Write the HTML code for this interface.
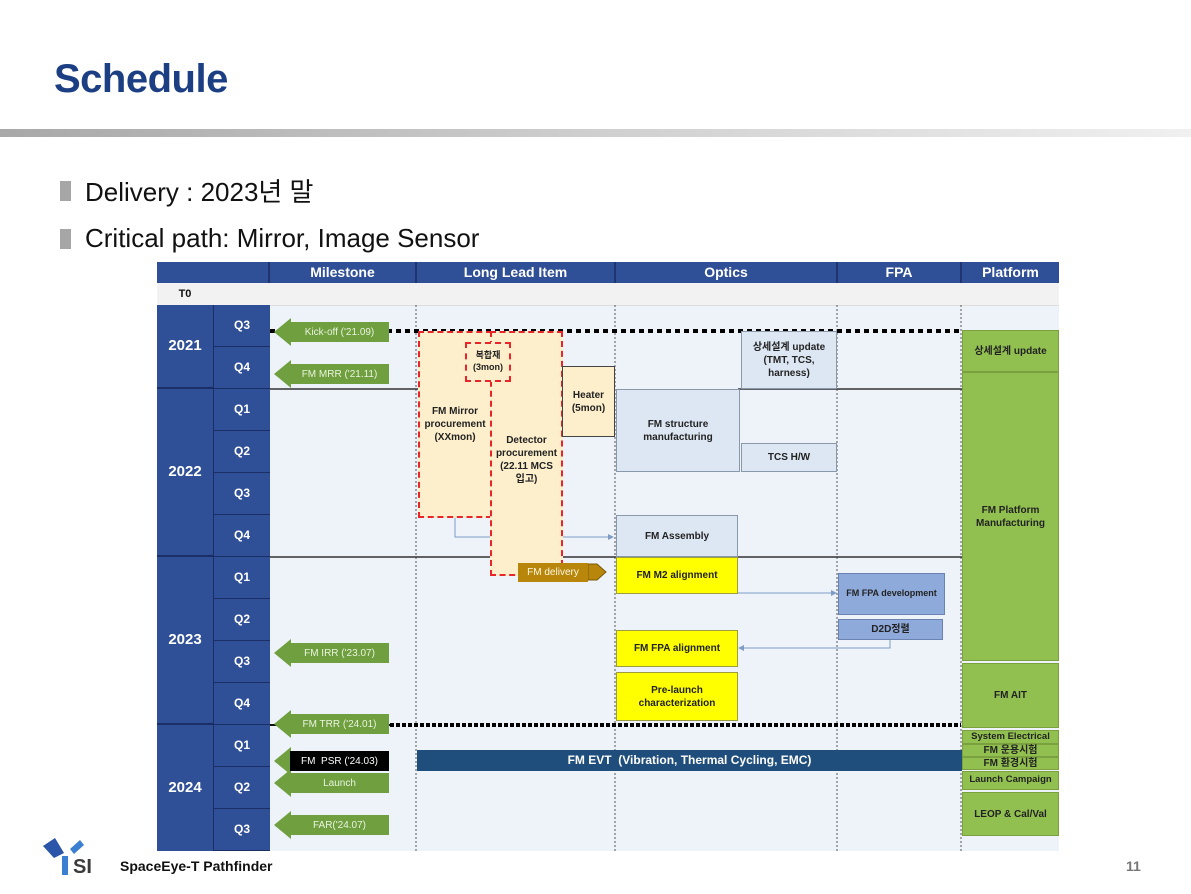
<!DOCTYPE html>
<html><head><meta charset="utf-8"><style>
body{margin:0;width:1191px;height:894px;position:relative;background:#fff;overflow:hidden;font-family:"Liberation Sans","Noto Sans CJK KR",sans-serif}
.a{position:absolute;box-sizing:border-box;display:flex;align-items:center;justify-content:center;text-align:center;font-weight:bold;line-height:1.3}
.h{background:#2f4f96;color:#fff;font-size:14px;border-right:2px solid #1f3470}
.yr{background:#2f4f96;color:#fff;font-size:15px}
.q{background:#2f4f96;color:#fff;font-size:12px;border-left:1px solid #1b2f66;border-bottom:1px solid #1b2f66}
.ms{background:#6f9f3f;color:#eaf4df;font-size:10px;font-weight:normal}
.dr{border:2px dashed #e8262a;background:#fdefcb;font-size:10px;color:#222}
.lb{background:#dde7f3;border:1px solid #8a99aa;font-size:10px;color:#222}
.ye{background:#ffff00;border:1px solid #9c9c40;font-size:10px;color:#222}
.gr{background:#92c050;border:1px solid #7aa040;font-size:10px;color:#222}
.pu{background:#8eaadb;border:1px solid #6a83b0;font-size:9px;color:#222}
</style></head><body>
<div style="position:absolute;left:54px;top:57px;font-size:40px;font-weight:bold;color:#1c3f84;letter-spacing:-0.5px">Schedule</div>
<div style="position:absolute;left:0;top:129px;width:1191px;height:8px;background:linear-gradient(90deg,#a8a8a8,#cfcfcf 50%,#f0f0f0)"></div>
<div style="position:absolute;left:60px;top:181px;width:11px;height:20px;background:#a6a6a6"></div>
<div style="position:absolute;left:85px;top:172px;font-size:26px;color:#111">Delivery : 2023년 말</div>
<div style="position:absolute;left:60px;top:229px;width:11px;height:20px;background:#a6a6a6"></div>
<div style="position:absolute;left:85px;top:223px;font-size:26px;color:#111">Critical path: Mirror, Image Sensor</div>

<div style="position:absolute;left:269px;top:283px;width:790px;height:568px;background:#eef3fa"></div>
<div style="position:absolute;left:157px;top:283px;width:902px;height:22px;background:#f2f2f2;border-bottom:1px solid #ddd"></div>
<div class="a" style="left:157px;top:283px;width:56px;height:22px;font-size:11px;color:#111">T0</div>
<div class="a h" style="left:157px;top:262px;width:113px;height:21px"></div>
<div class="a h" style="left:270px;top:262px;width:147px;height:21px">Milestone</div>
<div class="a h" style="left:417px;top:262px;width:199px;height:21px">Long Lead Item</div>
<div class="a h" style="left:616px;top:262px;width:222px;height:21px">Optics</div>
<div class="a h" style="left:838px;top:262px;width:124px;height:21px">FPA</div>
<div class="a h" style="left:962px;top:262px;width:97px;height:21px;border-right:none">Platform</div>

<div class="a yr" style="left:157px;top:305px;width:56px;height:84px;border-bottom:2px solid #1b2f66">2021</div>
<div class="a yr" style="left:157px;top:389px;width:56px;height:168px;border-bottom:2px solid #1b2f66">2022</div>
<div class="a yr" style="left:157px;top:557px;width:56px;height:168px;border-bottom:2px solid #1b2f66">2023</div>
<div class="a yr" style="left:157px;top:725px;width:56px;height:126px">2024</div>
<div class="a q" style="left:213px;top:305px;width:57px;height:42px">Q3</div>
<div class="a q" style="left:213px;top:347px;width:57px;height:42px">Q4</div>
<div class="a q" style="left:213px;top:389px;width:57px;height:42px">Q1</div>
<div class="a q" style="left:213px;top:431px;width:57px;height:42px">Q2</div>
<div class="a q" style="left:213px;top:473px;width:57px;height:42px">Q3</div>
<div class="a q" style="left:213px;top:515px;width:57px;height:42px">Q4</div>
<div class="a q" style="left:213px;top:557px;width:57px;height:42px">Q1</div>
<div class="a q" style="left:213px;top:599px;width:57px;height:42px">Q2</div>
<div class="a q" style="left:213px;top:641px;width:57px;height:42px">Q3</div>
<div class="a q" style="left:213px;top:683px;width:57px;height:42px">Q4</div>
<div class="a q" style="left:213px;top:725px;width:57px;height:42px">Q1</div>
<div class="a q" style="left:213px;top:767px;width:57px;height:42px">Q2</div>
<div class="a q" style="left:213px;top:809px;width:57px;height:42px">Q3</div>

<svg style="position:absolute;left:0;top:0" width="1191" height="894">
<g stroke="#555" stroke-width="1" stroke-dasharray="2,2">
<line x1="416" y1="305" x2="416" y2="851"/><line x1="615" y1="305" x2="615" y2="851"/>
<line x1="837" y1="305" x2="837" y2="851"/><line x1="961" y1="305" x2="961" y2="851"/>
</g>
<g stroke="#333" stroke-width="1.5">
<line x1="270" y1="389" x2="418" y2="389"/><line x1="738" y1="389" x2="962" y2="389"/>
<line x1="270" y1="557" x2="490" y2="557"/><line x1="562" y1="557" x2="962" y2="557"/>
</g>
<line x1="270" y1="331" x2="961" y2="331" stroke="#000" stroke-width="4" stroke-dasharray="5,4"/>
<line x1="390" y1="725" x2="961" y2="725" stroke="#000" stroke-width="4" stroke-dasharray="4,2"/>
<line x1="270" y1="725" x2="390" y2="725" stroke="#111" stroke-width="2"/>
<g fill="#6f9f3f">
<polygon points="274,332 291,318 291,346"/><polygon points="274,374 291,360 291,388"/>
<polygon points="274,653 291,639 291,667"/><polygon points="274,724 291,710 291,738"/>
<polygon points="274,761 291,747 291,775"/><polygon points="274,783 291,769 291,797"/>
<polygon points="274,825 291,811 291,839"/>
</g>
<polygon points="588,564 597,564 606,572 597,580 588,580" fill="#b8860b" stroke="#7a5a00"/>
<g stroke="#7f9cc7" stroke-width="1" fill="none">
<polyline points="455,517 455,537 612,537"/>
<polyline points="737,593 834,593"/>
<polyline points="890,639 890,648 741,648"/>
</g>
<g fill="#7f9cc7"><polygon points="614,537 608,534 608,540"/><polygon points="837,593 831,590 831,596"/><polygon points="738,648 744,645 744,651"/></g>
</svg>

<div class="a ms" style="left:290px;top:322px;width:99px;height:20px">Kick-off ('21.09)</div>
<div class="a ms" style="left:290px;top:364px;width:99px;height:20px">FM MRR ('21.11)</div>
<div class="a ms" style="left:290px;top:643px;width:99px;height:20px">FM IRR ('23.07)</div>
<div class="a ms" style="left:290px;top:714px;width:99px;height:20px">FM TRR ('24.01)</div>
<div class="a ms" style="left:290px;top:751px;width:99px;height:20px;background:#000;color:#fff">FM&nbsp; PSR ('24.03)</div>
<div class="a ms" style="left:290px;top:773px;width:99px;height:20px">Launch</div>
<div class="a ms" style="left:290px;top:815px;width:99px;height:20px">FAR('24.07)</div>

<div class="a dr" style="left:418px;top:331px;width:74px;height:187px">FM Mirror<br>procurement<br>(XXmon)</div>
<div class="a dr" style="left:490px;top:331px;width:73px;height:245px;padding-top:12px">Detector<br>procurement<br>(22.11 MCS<br>입고)</div>
<div class="a dr" style="left:465px;top:342px;width:46px;height:40px;font-size:9px">복합재<br>(3mon)</div>
<div class="a" style="left:562px;top:366px;width:53px;height:71px;background:#fdefcb;border:1px solid #444;font-size:10px;color:#222">Heater<br>(5mon)</div>
<div class="a ms" style="left:518px;top:563px;width:70px;height:19px;background:#b8860b;color:#fff8e0">FM delivery</div>

<div class="a lb" style="left:741px;top:331px;width:96px;height:58px">상세설계 update<br>(TMT, TCS,<br>harness)</div>
<div class="a lb" style="left:616px;top:389px;width:124px;height:83px">FM structure<br>manufacturing</div>
<div class="a lb" style="left:741px;top:443px;width:96px;height:29px">TCS H/W</div>
<div class="a lb" style="left:616px;top:515px;width:122px;height:42px">FM Assembly</div>
<div class="a ye" style="left:616px;top:557px;width:122px;height:37px">FM M2 alignment</div>
<div class="a ye" style="left:616px;top:630px;width:122px;height:37px">FM FPA alignment</div>
<div class="a ye" style="left:616px;top:672px;width:122px;height:49px">Pre-launch<br>characterization</div>
<div class="a pu" style="left:838px;top:573px;width:107px;height:42px">FM FPA development</div>
<div class="a pu" style="left:838px;top:619px;width:105px;height:21px;font-size:10px">D2D정렬</div>

<div class="a gr" style="left:962px;top:330px;width:97px;height:42px">상세설계 update</div>
<div class="a gr" style="left:962px;top:372px;width:97px;height:289px">FM Platform<br>Manufacturing</div>
<div class="a gr" style="left:962px;top:663px;width:97px;height:65px">FM AIT</div>
<div class="a gr" style="left:962px;top:730px;width:97px;height:14px;font-size:9.5px">System Electrical</div>
<div class="a gr" style="left:962px;top:744px;width:97px;height:13px;font-size:10px">FM 운용시험</div>
<div class="a gr" style="left:962px;top:757px;width:97px;height:13px;font-size:10px">FM 환경시험</div>
<div class="a gr" style="left:962px;top:771px;width:97px;height:19px;font-size:9.5px">Launch Campaign</div>
<div class="a gr" style="left:962px;top:792px;width:97px;height:44px">LEOP &amp; Cal/Val</div>

<div class="a" style="left:417px;top:750px;width:545px;height:21px;background:#1f4e7d;color:#fff;font-size:12px">FM EVT&nbsp; (Vibration, Thermal Cycling, EMC)</div>

<svg style="position:absolute;left:40px;top:835px" width="60" height="45">
<polygon points="3,11 15,3 24,18 14,23" fill="#2b55a8"/>
<polygon points="30,14 40,5 44,10 34,19" fill="#3a7fd0"/>
<rect x="22" y="21" width="6" height="19" fill="#3a7fd0"/>
<text x="33" y="38" font-family="Liberation Sans" font-weight="bold" font-size="20" fill="#3b3b3b">SI</text>
</svg>
<div style="position:absolute;left:120px;top:858px;font-size:14px;font-weight:bold;color:#111">SpaceEye-T Pathfinder</div>
<div style="position:absolute;left:1126px;top:858px;font-size:14px;font-weight:bold;color:#777">11</div>
</body></html>
